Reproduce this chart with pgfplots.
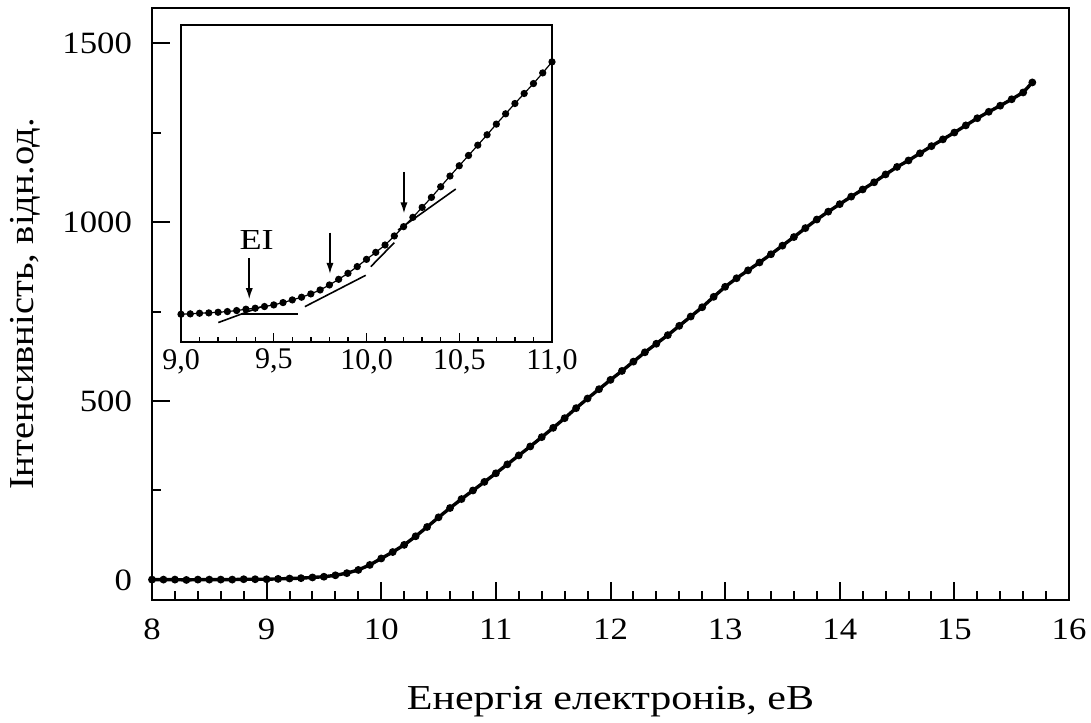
\documentclass[border=0pt]{standalone}
\usepackage{pgfplots}
\pgfplotsset{compat=1.18}
\usepackage{fontspec}
\setmainfont{Liberation Serif}
\newfontfamily\xlabfont[FakeStretch=1.2]{Liberation Serif}
\newfontfamily\ylabfont[FakeStretch=1.10]{Liberation Serif}
\newfontfamily\tickfont[FakeStretch=1.12]{Liberation Serif}
\newfontfamily\eifont[FakeStretch=1.25]{Liberation Serif}
\usetikzlibrary{arrows.meta}

\pgfplotstableread{
x y
8.0 1
8.1 1
8.2 1
8.3 0
8.4 1
8.5 1
8.6 1
8.7 1
8.8 2
8.9 2
9.0 2
9.1 3
9.2 4
9.3 5
9.4 7
9.5 9
9.6 13
9.7 19
9.8 28
9.9 42
10.0 60
10.1 78
10.2 98
10.3 122
10.4 148
10.5 175
10.6 201
10.7 226
10.8 250
10.9 274
11.0 298
11.1 323
11.2 348
11.3 373
11.4 399
11.5 425
11.6 452
11.7 480
11.8 507
11.9 533
12.0 559
12.1 584
12.2 610
12.3 636
12.4 660
12.5 684
12.6 710
12.7 736
12.8 762
12.9 791
13.0 819
13.1 843
13.2 865
13.3 887
13.4 910
13.5 934
13.6 958
13.7 983
13.8 1007
13.9 1029
14.0 1050
14.1 1071
14.2 1091
14.3 1111
14.4 1133
14.5 1154
14.6 1172
14.7 1192
14.8 1212
14.9 1231
15.0 1250
15.1 1270
15.2 1290
15.3 1308
15.4 1325
15.5 1343
15.6 1362
15.68 1390
}\maindata

\pgfplotstableread{
x y
9.00 2.0
9.05 2.4
9.10 3.1
9.15 3.5
9.20 4.2
9.25 5.0
9.30 6.1
9.35 7.6
9.40 8.7
9.45 10.6
9.50 12.4
9.55 15.0
9.60 18.0
9.65 21.0
9.70 24.7
9.75 29.1
9.80 34.7
9.85 41.0
9.90 47.7
9.95 55.2
10.00 63.3
10.05 71.1
10.10 79.3
10.15 89.4
10.20 99.8
10.25 110.2
10.30 121.3
10.35 132.5
10.40 144.4
10.45 156.3
10.50 167.8
10.55 179.3
10.60 190.8
10.65 202.4
10.70 214.3
10.75 225.8
10.80 237.3
10.85 248.5
10.90 259.6
10.95 271.5
11.00 283.8
}\insetdata

\begin{document}
\begin{tikzpicture}
\def\fs{\fontsize{15}{18}\selectfont}
\begin{axis}[
  at={(76pt,61pt)}, anchor=south west,
  scale only axis, width=458.5pt, height=296pt,
  xmin=8, xmax=16, ymin=-56, ymax=1598,
  xtick={8,9,...,16}, minor x tick num=4,
  ytick={0,500,1000,1500}, minor y tick num=1,
  xtick pos=lower, ytick pos=left, tick align=inside,
  major tick length=9pt, minor tick length=4.6pt,
  axis line style={line width=1pt},
  every tick/.style={black, line width=1pt},
  /pgf/number format/assume math mode=true,
  /pgf/number format/1000 sep={},
  ticklabel style={font=\tickfont\fontsize{15.5}{18}\selectfont},
  xticklabel style={yshift=-6pt},
  yticklabel style={xshift=-6.5pt},
  xlabel={Енергія електронів, еВ},
  ylabel={Інтенсивність, відн.од.},
  xlabel style={font=\xlabfont\fontsize{17.5}{20}\selectfont, at={(axis description cs:0.5,-0.1858)}, anchor=base},
  ylabel style={font=\ylabfont\fontsize{17.5}{20}\selectfont, at={(axis description cs:-0.1294,0.5)}, anchor=base},
]
\addplot[black, line width=1.7pt, mark=*, mark size=1.05pt] table[x=x,y=y] {\maindata};
\end{axis}

\begin{axis}[
  at={(90.5pt,190pt)}, anchor=south west,
  scale only axis, width=185.5pt, height=158.5pt,
  xmin=9, xmax=11, ymin=-29, ymax=325,
  xtick={9,9.5,10,10.5,11}, minor x tick num=4,
  ytick=\empty,
  xtick pos=lower, tick align=inside,
  major tick length=4.5pt, minor tick length=2.5pt,
  axis line style={line width=0.7pt},
  every tick/.style={black, line width=0.7pt},
  /pgf/number format/assume math mode=true,
  /pgf/number format/.cd, use comma, fixed, fixed zerofill, precision=1,
  /pgfplots/.cd,
  ticklabel style={font=\fs},
]
\addplot[black, line width=0.6pt, mark=*, mark size=1.5pt] table[x=x,y=y] {\insetdata};
\addplot[black, line width=0.8pt] coordinates {(9.327,2.0) (9.632,2.0)};
\addplot[black, line width=0.8pt] coordinates {(9.201,-7.3) (9.43,10.2)};
\addplot[black, line width=0.8pt] coordinates {(9.668,10.5) (9.996,45.5)};
\addplot[black, line width=0.8pt] coordinates {(10.023,55.1) (10.15,82.0)};
\addplot[black, line width=0.8pt] coordinates {(10.17,96.0) (10.481,141.8)};
\draw[black, line width=0.8pt, -{Latex[length=5.5pt,width=3.6pt]}] (axis cs:9.368,64.5) -- (axis cs:9.368,18.8);
\draw[black, line width=0.8pt, -{Latex[length=5.5pt,width=3.6pt]}] (axis cs:9.803,93.0) -- (axis cs:9.803,47.0);
\draw[black, line width=0.8pt, -{Latex[length=5.5pt,width=3.6pt]}] (axis cs:10.202,161.1) -- (axis cs:10.202,114.6);
\node[font=\eifont\fontsize{14.5}{16}\selectfont] at (axis cs:9.408,84.9) {EI};
\end{axis}

\pgfresetboundingbox
\path (0,0) rectangle (545.5pt,361pt);
\end{tikzpicture}
\end{document}
